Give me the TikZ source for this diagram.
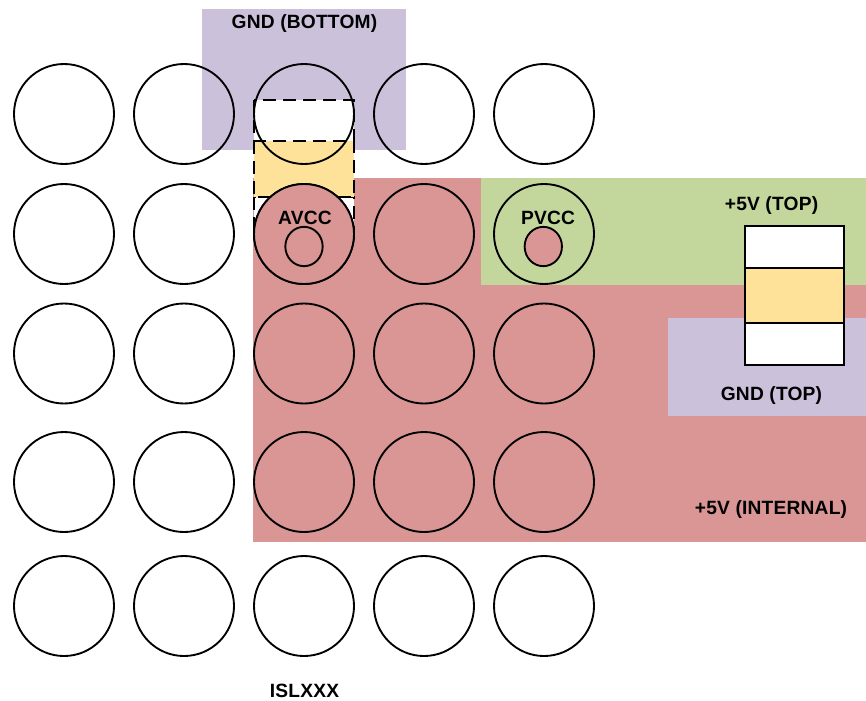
\documentclass[tikz,border=0pt]{standalone}
\usepackage{fontspec}
\setmainfont{Liberation Sans}[LetterSpace=1.0]
\usetikzlibrary{shapes.geometric}
\definecolor{redplane}{HTML}{D99694}
\definecolor{greenplane}{HTML}{C3D69B}
\definecolor{purpleplane}{HTML}{CCC1DA}
\definecolor{capbody}{HTML}{FFE299}
\tikzset{
  ball/.style={circle,draw=black,line width=1.4pt,minimum size=75pt,inner sep=0pt},
  via/.style={ellipse,draw=black,line width=1.4pt,minimum width=28pt,minimum height=29.5pt,inner sep=0pt},
  lbl/.style={font=\bfseries\fontsize{14.4}{16}\selectfont,inner sep=0pt,text=black},
  capend/.style={line width=1.7pt},
  dashcap/.style={capend,dash pattern=on 10pt off 5pt},
}
\begin{document}
\begin{tikzpicture}[x=0.75pt,y=-0.75pt]
\useasboundingbox (0,0) rectangle (866,700);
% planes
\fill[purpleplane] (202,9) rectangle (405.5,150);
\fill[redplane] (253,178) rectangle (481,285);
\fill[redplane] (253,285) rectangle (866,542);
\fill[greenplane] (481,178) rectangle (866,285);
\fill[purpleplane] (668,318) rectangle (866,416);
% bottom capacitor (dashed)
\draw[fill=white,dashcap] (254,100) rectangle (354,141);
\draw[fill=white,dashcap] (254,197) rectangle (354,238);
\draw[fill=capbody,dashcap] (254,141) rectangle (354,197);
% top capacitor
\draw[fill=white,capend] (745,226) rectangle (844,365);
\draw[fill=capbody,capend] (745,268) rectangle (844,323);
% balls
\foreach \r/\y in {1/114,2/234,3/353.5,4/482,5/606}
  \foreach \c/\x in {1/64,2/184,3/304,4/424,5/544}
    \node[ball] (b\r\c) at (\x,\y) {};
\node[ball,fill=redplane] (avccball) at (304,234) {};
\node[via] (avccvia) at (304,246.5) {};
\node[via,fill=redplane] (pvccvia) at (543.3,246.5) {};
% labels
\node[lbl] (gndbottom) at (304.5,23.5) {GND (BOTTOM)};
\node[lbl] (avcc) at (305,217.5) {AVCC};
\node[lbl] (pvcc) at (548,217.5) {PVCC};
\node[lbl] (fivetop) at (771.5,205.5) {+5V (TOP)};
\node[lbl] (gndtop) at (771.5,395.5) {GND (TOP)};
\node[lbl] (fiveint) at (771,509.5) {+5V (INTERNAL)};
\node[lbl] (islxxx) at (304.5,690.5) {ISLXXX};
\end{tikzpicture}
\end{document}
